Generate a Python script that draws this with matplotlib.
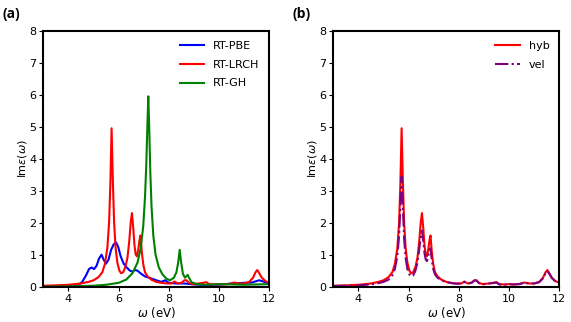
import matplotlib
matplotlib.use("Agg")
import matplotlib.pyplot as plt

# values (omega in eV, Im eps)
w_hyb = [3.0, 3.5, 4.0, 4.5, 4.8, 5.0, 5.2, 5.35, 5.45, 5.55, 5.62, 5.67, 5.72, 5.77, 5.82, 5.88,
         5.95, 6.03, 6.1, 6.18, 6.27, 6.35, 6.42, 6.48, 6.53, 6.58, 6.63, 6.68, 6.73, 6.78, 6.83,
         6.87, 6.92, 6.98, 7.05, 7.15, 7.3, 7.5, 7.7, 7.9, 8.1, 8.22, 8.35, 8.5, 8.62, 8.7, 8.8,
         8.95, 9.2, 9.35, 9.5, 9.6, 9.8, 10.0, 10.2, 10.4, 10.6, 10.8, 11.0, 11.2, 11.35, 11.45,
         11.52, 11.6, 11.7, 11.85, 12.0]
lrch = [0.03, 0.04, 0.06, 0.1, 0.15, 0.2, 0.3, 0.45, 0.7, 1.2, 2.0, 3.2, 4.95, 3.3, 2.0, 1.2,
        0.75, 0.5, 0.42, 0.45, 0.62, 0.9, 1.4, 2.0, 2.3, 1.85, 1.3, 1.0, 0.95, 1.15, 1.45,
        1.6, 1.1, 0.7, 0.45, 0.32, 0.22, 0.15, 0.12, 0.1, 0.1, 0.16, 0.1, 0.12, 0.2, 0.2, 0.12,
        0.08, 0.1, 0.12, 0.14, 0.08, 0.07, 0.08, 0.07, 0.08, 0.13, 0.1, 0.1, 0.15, 0.28, 0.45,
        0.52, 0.42, 0.28, 0.17, 0.12]
vel = [0.02, 0.03, 0.04, 0.07, 0.11, 0.15, 0.22, 0.35, 0.55, 0.95, 1.6, 2.5, 3.45, 2.5, 1.5, 0.9,
       0.55, 0.38, 0.32, 0.35, 0.5, 0.75, 1.15, 1.55, 1.75, 1.45, 1.05, 0.85, 0.8, 0.95, 1.15,
       1.2, 0.85, 0.55, 0.38, 0.28, 0.2, 0.14, 0.11, 0.09, 0.1, 0.15, 0.1, 0.12, 0.19, 0.19, 0.11,
       0.07, 0.1, 0.11, 0.13, 0.07, 0.06, 0.07, 0.07, 0.08, 0.12, 0.1, 0.1, 0.14, 0.26, 0.42,
       0.5, 0.4, 0.27, 0.16, 0.11]

w_pbe = [3.0, 4.0, 4.4, 4.55, 4.7, 4.82, 4.92, 5.02, 5.12, 5.22, 5.32, 5.4, 5.5, 5.6, 5.7, 5.8,
         5.9, 5.98, 6.08, 6.2, 6.32, 6.45, 6.55, 6.65, 6.75, 6.9, 7.05, 7.25, 7.5, 7.7, 7.85,
         8.0, 8.3, 8.6, 9.0, 9.5, 10.0, 10.5, 11.0, 11.3, 11.6, 11.8, 12.0]
pbe = [0.02, 0.03, 0.05, 0.15, 0.35, 0.55, 0.6, 0.55, 0.65, 0.88, 1.0, 0.85, 0.72, 0.85, 1.15, 1.32,
       1.38, 1.25, 0.95, 0.72, 0.6, 0.5, 0.47, 0.52, 0.5, 0.4, 0.32, 0.27, 0.2, 0.15, 0.2,
       0.12, 0.1, 0.1, 0.07, 0.05, 0.06, 0.1, 0.12, 0.13, 0.2, 0.15, 0.1]

w_gh = [3.0, 4.0, 5.0, 5.5, 6.0, 6.3, 6.55, 6.75, 6.88, 6.98, 7.05, 7.1, 7.14, 7.18, 7.22, 7.26,
        7.31, 7.38, 7.47, 7.6, 7.75, 7.9, 8.05, 8.2, 8.3, 8.37, 8.43, 8.49, 8.56, 8.64, 8.7,
        8.75, 8.8, 8.9, 9.1, 9.5, 10.0, 10.5, 11.0, 11.5, 12.0]
gh = [0.0, 0.01, 0.03, 0.06, 0.12, 0.22, 0.42, 0.75, 1.2, 1.9, 2.8, 3.8, 4.9, 5.95, 4.9, 3.6,
      2.5, 1.6, 1.0, 0.6, 0.38, 0.25, 0.2, 0.28, 0.45, 0.75, 1.15, 0.75, 0.4, 0.28, 0.33,
      0.37, 0.28, 0.14, 0.08, 0.06, 0.08, 0.07, 0.06, 0.07, 0.08]

fs = 8

fig = plt.figure(figsize=(5.71, 3.22), dpi=100)
ax1 = fig.add_axes([0.0758, 0.1097, 0.3959, 0.795])
ax2 = fig.add_axes([0.5837, 0.1097, 0.3959, 0.795])

ax1.plot(w_pbe, pbe, color='blue', lw=1.5, label='RT-PBE')
ax1.plot(w_hyb, lrch, color='red', lw=1.5, label='RT-LRCH')
ax1.plot(w_gh, gh, color='green', lw=1.5, label='RT-GH')

ax2.plot(w_hyb, lrch, color='red', lw=1.5, label='hyb')
ax2.plot(w_hyb, vel, color='purple', lw=1.5, ls='-.', label='vel')

for ax in (ax1, ax2):
    ax.set_xlim(3, 12)
    ax.set_ylim(0, 8)
    ax.set_xticks([4, 6, 8, 10, 12])
    ax.set_yticks(range(0, 9))
    ax.tick_params(labelsize=fs, length=3, width=0.8, pad=2)
    for s in ax.spines.values():
        s.set_linewidth(1.5)
    ax.set_xlabel(r'$\omega$ (eV)', fontsize=fs + 0.5, labelpad=1)
    ax.set_ylabel(r'Im$\varepsilon(\omega)$', fontsize=fs, labelpad=0)
    ax.legend(loc='upper right', frameon=False, fontsize=fs, handlelength=2.2,
              labelspacing=0.8)

fig.text(0.004, 0.945, '(a)', fontsize=10, fontweight='bold', family='Open Sans')
fig.text(0.512, 0.945, '(b)', fontsize=10, fontweight='bold', family='Open Sans')

fig.savefig('out.png', dpi=100)
